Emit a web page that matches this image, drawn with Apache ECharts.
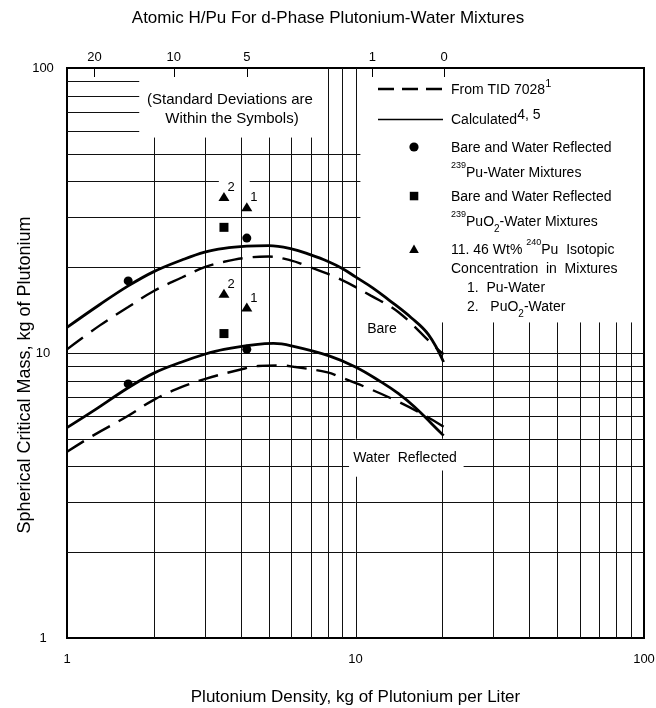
<!DOCTYPE html>
<html>
<head>
<meta charset="utf-8">
<script src="https://cdn.jsdelivr.net/npm/echarts@6/dist/echarts.min.js"></script>
<style>html,body{margin:0;padding:0;background:#fff}#chart{width:656px;height:708px}</style>
</head>
<body>
<div id="chart"></div>
<script>
// ---------------- data ----------------
// Bare, calculated (solid)
const bareCalcX = [1, 1.3, 1.63, 2, 2.5, 3, 3.5, 4.2, 5, 6, 7, 8, 9, 10, 11.5, 13, 15.6, 17.9, 20.2];
const bareCalcY = [12.3, 14.8, 17.2, 19.3, 21.2, 22.6, 23.3, 23.7, 23.8, 23.2, 22.1, 21.0, 19.8, 18.5, 16.9, 15.4, 13.3, 11.6, 9.3];
// Bare, from TID 7028 (dashed)
const bareTidX = [1, 1.3, 1.63, 2, 2.5, 3, 3.5, 4.2, 5, 6, 6.6, 8.7, 11.3, 14.1, 18.7, 20.2];
const bareTidY = [10.3, 12.5, 14.5, 16.5, 18.4, 20.0, 20.9, 21.6, 21.8, 21.1, 20.4, 18.3, 15.9, 13.9, 10.6, 9.9];
// Water reflected, calculated (solid)
const wrCalcX = [1, 1.23, 1.63, 2, 2.5, 3, 3.5, 4.5, 5.2, 6.1, 8.1, 10, 12.3, 14.1, 16, 18.4, 20.2];
const wrCalcY = [5.47, 6.25, 7.55, 8.5, 9.3, 9.9, 10.3, 10.7, 10.8, 10.55, 9.77, 8.93, 7.9, 7.2, 6.48, 5.64, 5.13];
// Water reflected, from TID 7028 (dashed)
const wrTidX = [1, 1.23, 1.63, 2, 2.5, 3, 4, 4.6, 5.5, 6.1, 8, 8.8, 10.8, 14.1, 17.4, 20.2];
const wrTidY = [4.5, 5.13, 6.02, 6.85, 7.6, 8.1, 8.75, 9.0, 9.05, 8.95, 8.55, 8.25, 7.6, 6.74, 6.03, 5.51];
// Experimental points
const puWaterX = [1.63, 1.63, 4.2, 4.2];
const puWaterY = [17.9, 7.79, 25.3, 10.3];
const puO2X = [3.5, 3.5];
const puO2Y = [27.6, 11.7];
const pu240X = [3.5, 4.2, 3.5, 4.2];
const pu240Y = [35.4, 32.6, 16.2, 14.5];
const pu240Tag = ['2', '1', '2', '1'];
// Top axis: atomic H/Pu against plutonium density
const hPuLabels = ['20', '10', '5', '1', '0'];
const hPuDensity = [1.245, 2.345, 4.2, 11.43, 20.3];
// Axis labels
const axisTickLabels = [1, 10, 100];

// ---------------- graph paper (grid rules with the reference's gaps) ----------------
const V = [ // [x, yFrom, yTo]
  [2,1,57],[3,1,57],[4,1,57],[5,1,57],[6,1,57],[7,1,57],
  [8,1,100],[9,1,100],[10,1,3.68],[10,5,100],
  [20,1,3.87],[20,5,12.8],
  [30,1,12.8],[40,1,12.8],[50,1,12.8],[60,1,12.8],[70,1,12.8],[80,1,12.8],[90,1,12.8]
];
const H = [ // [y, xFrom, xTo]
  [90,1,1.78],[80,1,1.78],[70,1,1.78],[60,1,1.78],
  [50,1,10.4],[40,1,3.36],[40,4.3,10.4],[30,1,10.4],[20,1,10.4],
  [10,1,100],[9,1,100],[8,1,100],[7,1,100],[6,1,100],[5,1,100],
  [4,1,9.5],[4,23.7,100],[3,1,100],[2,1,100]
];
const gridSegs = V.map(v => [v[0], v[1], v[0], v[2]]).concat(H.map(h => [h[1], h[0], h[2], h[0]]));

const zip = (xs, ys) => xs.map((x, i) => [x, ys[i]]);
const FONT = '"Liberation Sans", Arial, Helvetica, sans-serif';
const BLACK = '#000';

const chart = echarts.init(document.getElementById('chart'), null, {renderer: 'canvas'});

const rich = {
  n:    {fontSize: 14, fontFamily: FONT, lineHeight: 24, verticalAlign: 'middle', fill: BLACK},
  s15:  {fontSize: 15, fontFamily: FONT, lineHeight: 20, verticalAlign: 'middle', fill: BLACK},
  sup:  {fontSize: 9,  fontFamily: FONT, lineHeight: 14, verticalAlign: 'top', fill: BLACK},
  sup1: {fontSize: 11, fontFamily: FONT, lineHeight: 14, verticalAlign: 'top', fill: BLACK},
  supL: {fontSize: 14, fontFamily: FONT, lineHeight: 10, verticalAlign: 'top', fill: BLACK},
  sub:  {fontSize: 10, fontFamily: FONT, lineHeight: 16, verticalAlign: 'bottom', fill: BLACK}
};
function txt(x, y, text, align) {
  return {type: 'text', x: x, y: y, silent: true, z: 100,
    style: {text: text, rich: rich, fontFamily: FONT, fontSize: 14, fill: BLACK,
            align: align || 'left', verticalAlign: 'middle'}};
}

const graphic = [
  // legend
  {type: 'line', silent: true, shape: {x1: 378, y1: 89, x2: 443, y2: 89}, style: {stroke: BLACK, lineWidth: 2.4, lineDash: [16, 8]}},
  txt(451, 90, '{n|From TID 7028}{sup1|1}'),
  {type: 'line', silent: true, shape: {x1: 378, y1: 119.5, x2: 443, y2: 119.5}, style: {stroke: BLACK, lineWidth: 1.4}},
  txt(451, 120, '{n|Calculated}{supL|4, 5}'),
  {type: 'circle', silent: true, shape: {cx: 414, cy: 147, r: 4.6}, style: {fill: BLACK}},
  txt(451, 148, '{n|Bare and Water Reflected}'),
  txt(451, 173, '{sup|239}{n|Pu-Water Mixtures}'),
  {type: 'rect', silent: true, shape: {x: 409.8, y: 191.8, width: 8.5, height: 8.5}, style: {fill: BLACK}},
  txt(451, 197, '{n|Bare and Water Reflected}'),
  txt(451, 222, '{sup|239}{n|PuO}{sub|2}{n|-Water Mixtures}'),
  {type: 'polygon', silent: true, shape: {points: [[414, 244.5], [418.8, 253], [409.2, 253]]}, style: {fill: BLACK}},
  txt(451, 250, '{n|11. 46 Wt% }{sup|240}{n|Pu  Isotopic}'),
  txt(451, 269, '{n|Concentration  in  Mixtures}'),
  txt(467, 288, '{n|1.  Pu-Water}'),
  txt(467, 307, '{n|2.   PuO}{sub|2}{n|-Water}'),
  // notes
  txt(230, 100, '{s15|(Standard Deviations are}', 'center'),
  txt(232, 119, '{s15|Within the Symbols)}', 'center'),
  txt(382, 329, '{n|Bare}', 'center'),
  txt(405, 458, '{n|Water  Reflected}', 'center'),
  // y-axis title
  {type: 'text', x: 25, y: 375, rotation: Math.PI / 2, silent: true, z: 100,
   style: {text: 'Spherical Critical Mass, kg of Plutonium', fontFamily: FONT, fontSize: 18, fill: BLACK,
           align: 'center', verticalAlign: 'middle'}}
];

const option = {
  animation: false,
  backgroundColor: '#fff',
  textStyle: {fontFamily: FONT, color: BLACK},
  title: {
    text: 'Atomic H/Pu For d-Phase Plutonium-Water Mixtures',
    left: 'center', top: 5,
    textStyle: {fontFamily: FONT, fontSize: 17, fontWeight: 'normal', color: BLACK}
  },
  grid: {left: 67, top: 68, width: 577, height: 570, show: true, borderColor: BLACK, borderWidth: 2,
         backgroundColor: 'transparent', containLabel: false, outerBoundsMode: 'none'},
  xAxis: [
    {
      type: 'log', logBase: 10, min: 1, max: 100,
      name: 'Plutonium Density, kg of Plutonium per Liter',
      nameLocation: 'middle', nameGap: 51,
      nameTextStyle: {fontFamily: FONT, fontSize: 17, color: BLACK},
      axisLine: {show: false}, axisTick: {show: false}, splitLine: {show: false}, minorTick: {show: false},
      axisLabel: {fontFamily: FONT, fontSize: 13, color: BLACK, margin: 15,
                  formatter: v => axisTickLabels.includes(Math.round(v)) ? String(Math.round(v)) : ''}
    },
    {
      type: 'value', position: 'top', min: 0, max: 2,
      axisLine: {show: false}, splitLine: {show: false},
      axisTick: {show: true, inside: true, length: 9, lineStyle: {color: BLACK, width: 1},
                 customValues: hPuDensity.map(d => Math.log10(d))},
      axisLabel: {fontFamily: FONT, fontSize: 13, color: BLACK, margin: 4,
                  customValues: hPuDensity.map(d => Math.log10(d)),
                  formatter: v => {
                    let best = 0;
                    hPuDensity.forEach((d, i) => { if (Math.abs(Math.log10(d) - v) < Math.abs(Math.log10(hPuDensity[best]) - v)) best = i; });
                    return hPuLabels[best];
                  }}
    }
  ],
  yAxis: {
    type: 'log', logBase: 10, min: 1, max: 100,
    axisLine: {show: false}, axisTick: {show: false}, splitLine: {show: false}, minorTick: {show: false},
    axisLabel: {fontFamily: FONT, fontSize: 13, color: BLACK, margin: 24, align: 'center',
                formatter: v => String(Math.round(v))}
  },
  graphic: graphic,
  series: [
    {
      type: 'custom', name: 'paper', silent: true, z: 1, xAxisIndex: 0, yAxisIndex: 0,
      data: gridSegs, encode: {x: [0, 2], y: [1, 3]}, clip: true,
      renderItem: (params, api) => {
        const a = api.coord([api.value(0), api.value(1)]);
        const b = api.coord([api.value(2), api.value(3)]);
        const vert = api.value(0) === api.value(2);
        const fx = v => vert ? Math.round(v) + 0.5 : v;
        const fy = v => vert ? v : Math.round(v) + 0.5;
        return {type: 'line', shape: {x1: fx(a[0]), y1: fy(a[1]), x2: fx(b[0]), y2: fy(b[1])},
                style: {stroke: '#111', lineWidth: 1}};
      }
    },
    {type: 'line', name: 'Calculated (Bare)', data: zip(bareCalcX, bareCalcY), smooth: 0.4, symbol: 'none', z: 5,
     lineStyle: {color: BLACK, width: 2.8}},
    {type: 'line', name: 'From TID 7028 (Bare)', data: zip(bareTidX, bareTidY), smooth: 0.4, symbol: 'none', z: 5,
     lineStyle: {color: BLACK, width: 2.4, type: [20, 10]}},
    {type: 'line', name: 'Calculated (Water Reflected)', data: zip(wrCalcX, wrCalcY), smooth: 0.4, symbol: 'none', z: 5,
     lineStyle: {color: BLACK, width: 2.8}},
    {type: 'line', name: 'From TID 7028 (Water Reflected)', data: zip(wrTidX, wrTidY), smooth: 0.4, symbol: 'none', z: 5,
     lineStyle: {color: BLACK, width: 2.4, type: [20, 10]}},
    {type: 'scatter', name: '239Pu-Water Mixtures', data: zip(puWaterX, puWaterY), symbol: 'circle', symbolSize: 9, z: 6,
     itemStyle: {color: BLACK, opacity: 1}},
    {type: 'scatter', name: '239PuO2-Water Mixtures', data: zip(puO2X, puO2Y), symbol: 'rect', symbolSize: 9, z: 6,
     itemStyle: {color: BLACK, opacity: 1}},
    {type: 'scatter', name: '11.46 Wt% 240Pu', data: pu240X.map((x, i) => [x, pu240Y[i], pu240Tag[i]]),
     symbol: 'triangle', symbolSize: [11, 9], z: 6, itemStyle: {color: BLACK, opacity: 1},
     label: {show: true, position: 'right', distance: 1, offset: [-3, -9], formatter: p => p.value[2],
             fontFamily: FONT, fontSize: 13, color: BLACK, opacity: 1}}
  ]
};
chart.setOption(option);
</script>
</body>
</html>
